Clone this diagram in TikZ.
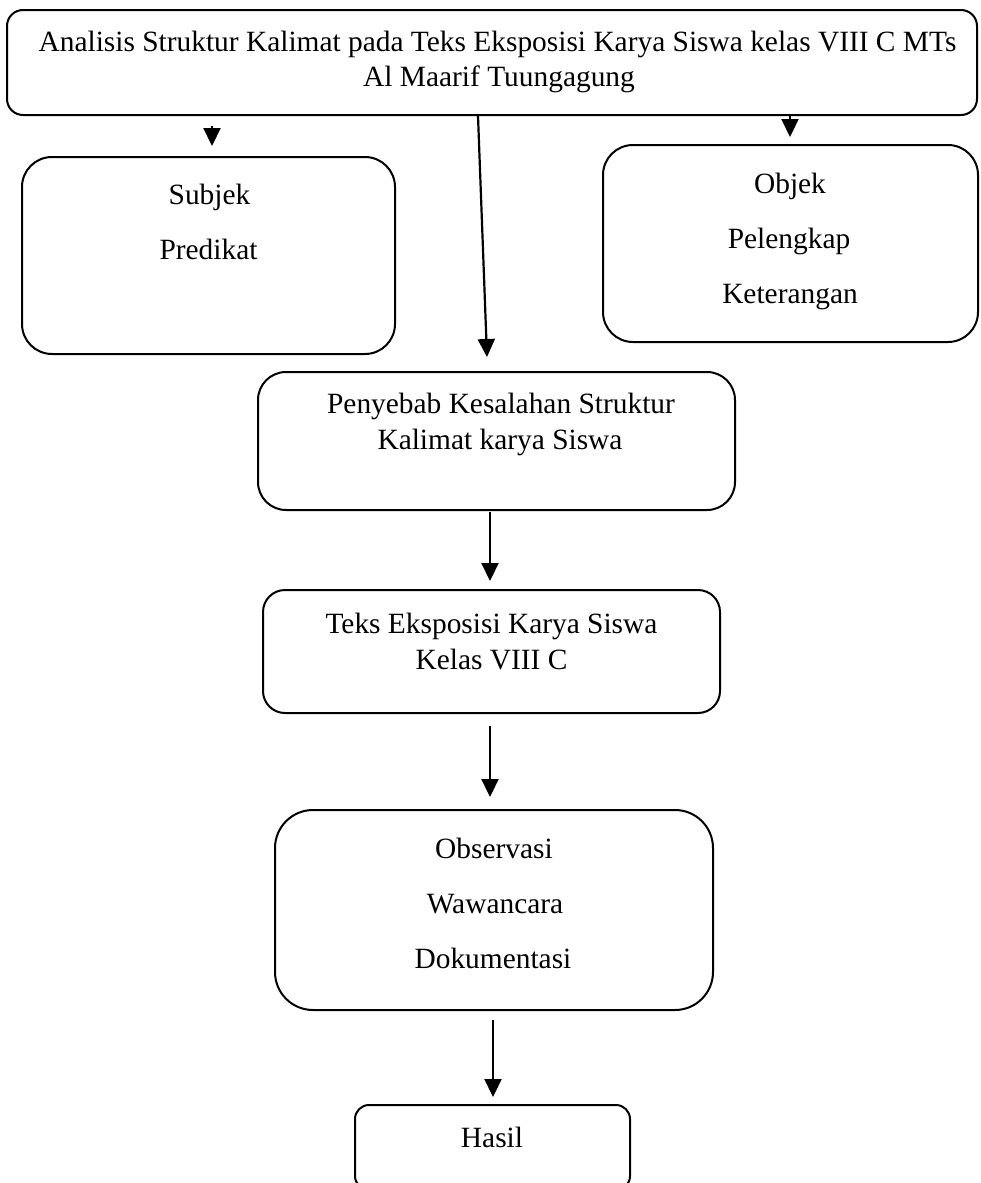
\documentclass[tikz,border=0pt]{standalone}
\usepackage{fontspec}
\setmainfont{Liberation Serif}
\usetikzlibrary{arrows.meta}
\begin{document}
\begin{tikzpicture}[x=1pt,y=-1pt,
  box/.style={draw,line width=2pt,rounded corners=#1},
  box/.default=30pt,
  txt/.style={font=\fontsize{29.4}{35}\selectfont,inner sep=0pt,anchor=base},
  arr/.style={line width=2.2pt,-{Triangle[length=18pt,width=17pt]}}]
\useasboundingbox (0,0) rectangle (980,1183);
% top box
\draw[box=16pt] (7,10) rectangle (977,115);
\coordinate (topS) at (478,116);
\node[txt] (t1) at (497.5,51) {Analisis Struktur Kalimat pada Teks Eksposisi Karya Siswa kelas VIII C MTs};
\node[txt] (t2) at (499,86) {Al Maarif Tuungagung};
% subjek
\draw[box] (22,157) rectangle (395,354);
\node[txt] (s1) at (209.5,204) {Subjek};
\node[txt] (s2) at (208.5,259) {Predikat};
% objek
\draw[box] (603,145) rectangle (978,342);
\node[txt] (o1) at (790,193) {Objek};
\node[txt] (o2) at (789,248) {Pelengkap};
\node[txt] (o3) at (790,303) {Keterangan};
% penyebab
\draw[box=28pt] (258,372) rectangle (735,510);
\node[txt] (p1) at (501,413) {Penyebab Kesalahan Struktur};
\node[txt] (p2) at (500,449) {Kalimat karya Siswa};
% teks
\draw[box=22pt] (263,590) rectangle (720,713);
\node[txt] (k1) at (491.5,633) {Teks Eksposisi Karya Siswa};
\node[txt] (k2) at (491.5,669) {Kelas VIII C};
% metode
\draw[box=38pt] (275,810) rectangle (713,1010);
\node[txt] (w1) at (494,858) {Observasi};
\node[txt] (w2) at (495,913) {Wawancara};
\node[txt] (w3) at (493,968) {Dokumentasi};
% hasil
\draw[box=14pt] (355,1105) rectangle (630,1190);
\node[txt] (h1) at (492,1147) {Hasil};
% arrows
\coordinate (a1s) at (212,126); \coordinate (a1e) at (212,146);
\coordinate (a2s) at (790,116); \coordinate (a2e) at (790,137);
\coordinate (a3e) at (487,357);
\coordinate (a4s) at (490,512); \coordinate (a4e) at (490,581);
\coordinate (a5s) at (490,726); \coordinate (a5e) at (490,797);
\coordinate (a6s) at (493,1020); \coordinate (a6e) at (493,1097);
\draw[arr] (a1s) -- (a1e);
\draw[arr] (a2s) -- (a2e);
\draw[arr] (topS) -- (a3e);
\draw[arr] (a4s) -- (a4e);
\draw[arr] (a5s) -- (a5e);
\draw[arr] (a6s) -- (a6e);
\end{tikzpicture}
\end{document}
